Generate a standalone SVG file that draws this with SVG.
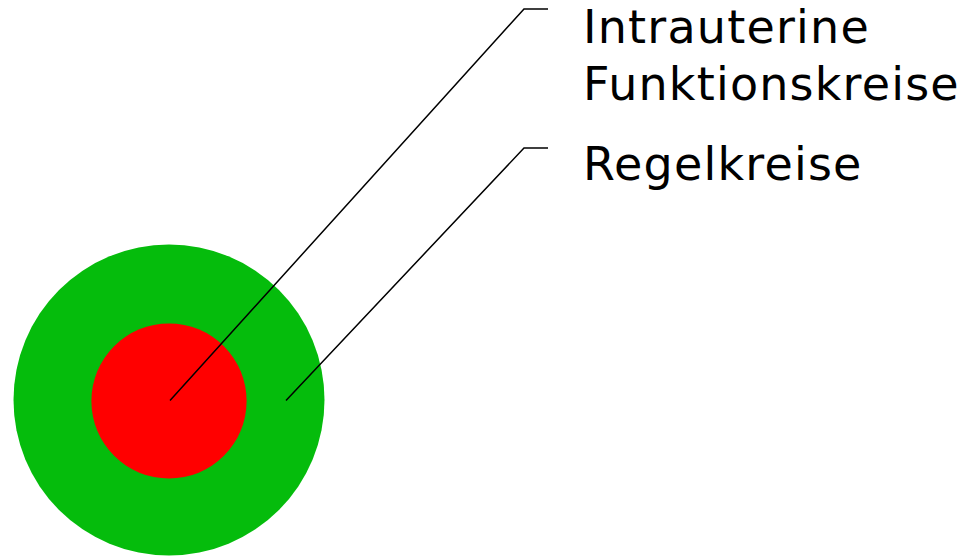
<svg xmlns="http://www.w3.org/2000/svg" width="969" height="556" viewBox="0 0 969 556">
  <style>
    .label { font-family: "DejaVu Sans", Verdana, sans-serif; font-size: 46px; letter-spacing: 1.2px; fill: #000; }
    .leader { fill: none; stroke: #000; stroke-width: 1.5; }
  </style>
  <rect width="969" height="556" fill="#fff"/>
  <g id="regelkreise">
    <circle cx="169" cy="400" r="155.5" fill="#05BC0C"/>
  </g>
  <g id="intrauterine-funktionskreise">
    <circle cx="169" cy="401" r="77.6" fill="#FF0000"/>
  </g>
  <g id="connectors">
    <polyline class="leader" points="170,400.5 524,9 548,9"/>
    <polyline class="leader" points="286,400.5 524,148 548,148"/>
  </g>
  <g id="labels">
    <text class="label" x="583" y="43">Intrauterine</text>
    <text class="label" x="583" y="100">Funktionskreise</text>
    <text class="label" x="583" y="180">Regelkreise</text>
  </g>
</svg>
